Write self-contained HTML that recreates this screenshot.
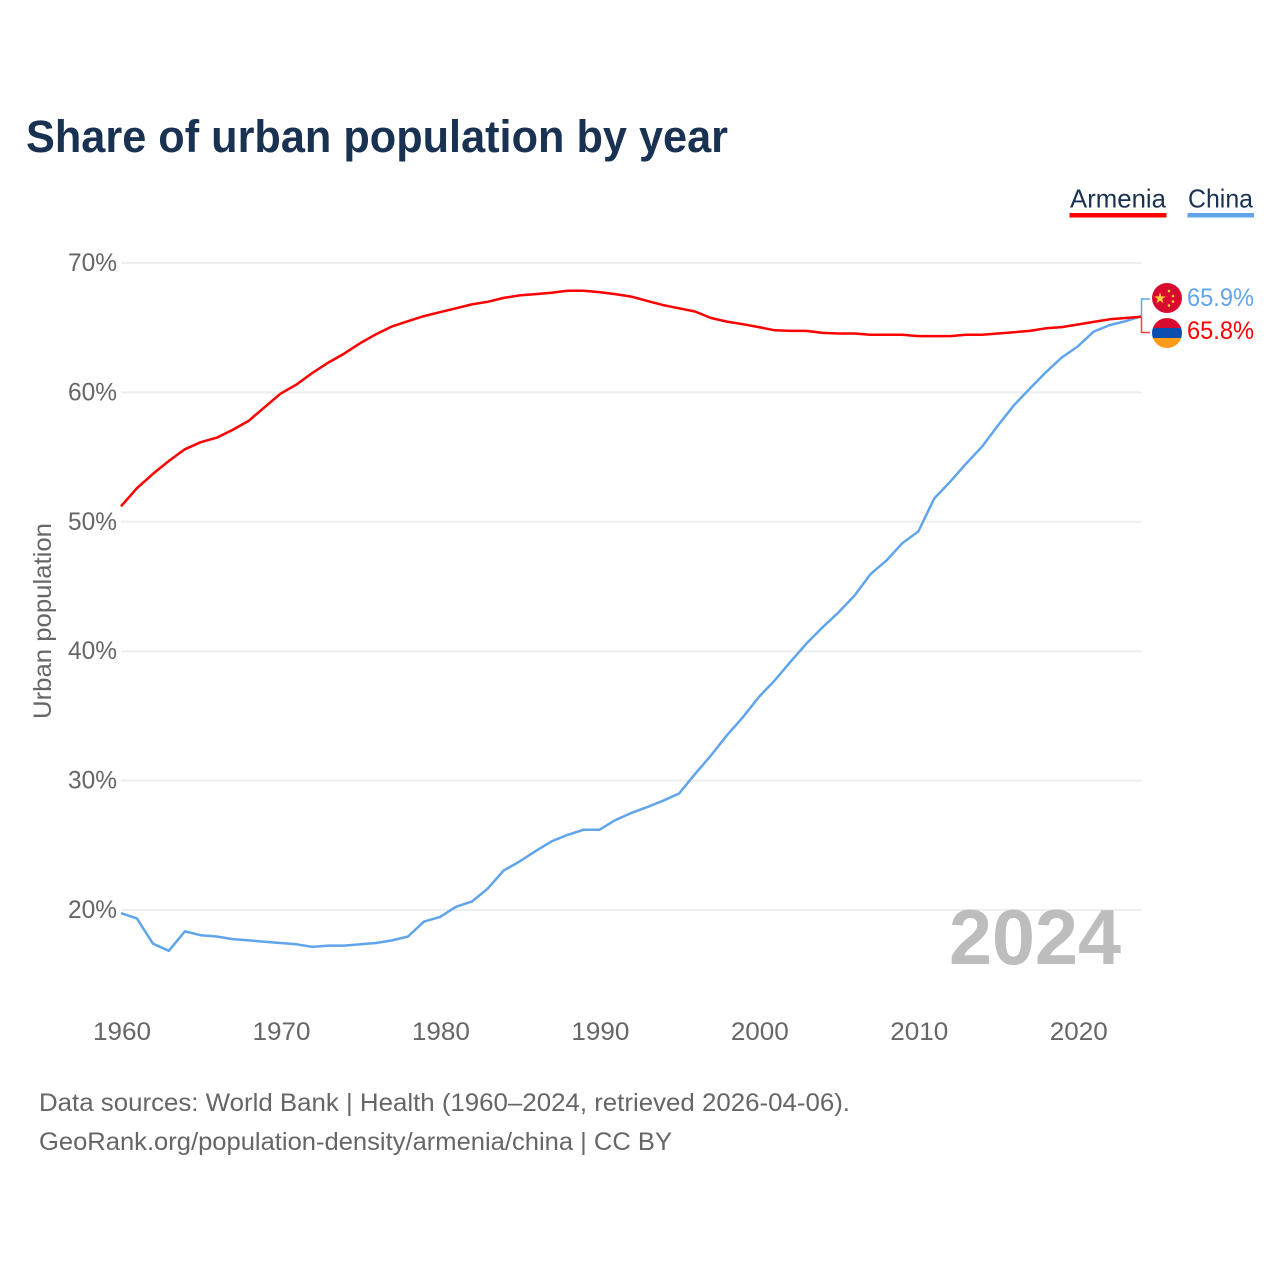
<!DOCTYPE html>
<html lang="en">
<head>
<meta charset="utf-8">
<title>Share of urban population by year</title>
<style>
html,body{margin:0;padding:0;background:#fff}
svg{display:block}
text{font-family:"Liberation Sans",sans-serif}
</style>
</head>
<body>
<svg id="chart" xmlns="http://www.w3.org/2000/svg" width="1280" height="1280" viewBox="0 0 1280 1280">
  <rect width="1280" height="1280" fill="#fff"/>
  <text x="26" y="152" font-size="45" font-weight="700" fill="#1a3252" textLength="702" lengthAdjust="spacingAndGlyphs">Share of urban population by year</text>

  <g>
    <g>
      <text x="1070" y="207.500" font-size="26" fill="#1a3252" textLength="96" lengthAdjust="spacingAndGlyphs">Armenia</text>
      <rect x="1069.500" y="213" width="97" height="4.500" fill="#ff0000"/>
    </g>
    <g>
      <text x="1188" y="207.500" font-size="26" fill="#1a3252" textLength="65" lengthAdjust="spacingAndGlyphs">China</text>
      <rect x="1187.500" y="213" width="66.500" height="4.500" fill="#60a5ec"/>
    </g>
  </g>

  <g id="grid"></g>
  <g id="yticks"></g>
  <g id="xticks"></g>

  <text transform="translate(51,719) rotate(-90)" font-size="25" fill="#666" textLength="196" lengthAdjust="spacingAndGlyphs">Urban population</text>

  <text x="949" y="964" font-size="78" font-weight="700" fill="#bdbdbd" textLength="172" lengthAdjust="spacingAndGlyphs">2024</text>

  <g id="series"></g>

  <defs>
    <clipPath id="clip-am"><circle cx="1167" cy="333" r="15"/></clipPath>
  </defs>

  <g>
    <circle cx="1167" cy="298" r="15" fill="#d80a30"/>
    <polygon points="1160,292.300 1161.350,296.440 1165.700,296.400 1162.200,299 1163.500,303.200 1160,300.600 1156.500,303.200 1157.800,299 1154.300,296.400 1158.650,296.440" fill="#ffd23f"/>
    <circle cx="1169" cy="291" r="1.300" fill="#ffd23f"/>
    <circle cx="1173" cy="296" r="1.300" fill="#ffd23f"/>
    <circle cx="1173" cy="301.500" r="1.300" fill="#ffd23f"/>
    <circle cx="1169" cy="305.500" r="1.300" fill="#ffd23f"/>
  </g>
  <g clip-path="url(#clip-am)">
    <rect x="1152" y="318" width="30" height="10" fill="#d80a30"/>
    <rect x="1152" y="328" width="30" height="10.500" fill="#0a4fb0"/>
    <rect x="1152" y="338" width="30" height="10" fill="#ff9a1a"/>
  </g>

  <text x="1187" y="306" font-size="25" fill="#60a5ec" textLength="67" lengthAdjust="spacingAndGlyphs">65.9%</text>
  <text x="1187" y="339" font-size="25" fill="#ff0000" textLength="67" lengthAdjust="spacingAndGlyphs">65.8%</text>

  <text x="39" y="1111" font-size="25" fill="#666" textLength="811" lengthAdjust="spacingAndGlyphs">Data sources: World Bank | Health (1960–2024, retrieved 2026-04-06).</text>
  <text x="39" y="1150" font-size="25" fill="#666" textLength="633" lengthAdjust="spacingAndGlyphs">GeoRank.org/population-density/armenia/china | CC BY</text>
</svg>

<script>
const years = [1960,1961,1962,1963,1964,1965,1966,1967,1968,1969,1970,1971,1972,1973,1974,1975,1976,1977,1978,1979,1980,1981,1982,1983,1984,1985,1986,1987,1988,1989,1990,1991,1992,1993,1994,1995,1996,1997,1998,1999,2000,2001,2002,2003,2004,2005,2006,2007,2008,2009,2010,2011,2012,2013,2014,2015,2016,2017,2018,2019,2020,2021,2022,2023,2024];
const armeniaValues = [51.2,52.6,53.7,54.7,55.6,56.15,56.5,57.1,57.8,58.85,59.9,60.6,61.5,62.3,63.0,63.8,64.5,65.1,65.5,65.9,66.2,66.5,66.8,67.0,67.3,67.5,67.6,67.7,67.85,67.85,67.75,67.6,67.4,67.07,66.75,66.5,66.25,65.75,65.47,65.27,65.05,64.8,64.75,64.75,64.6,64.55,64.55,64.45,64.45,64.45,64.35,64.35,64.35,64.45,64.45,64.55,64.65,64.75,64.95,65.05,65.25,65.45,65.65,65.75,65.85];
const chinaValues = [19.75,19.35,17.4,16.85,18.35,18.05,17.95,17.75,17.65,17.55,17.45,17.35,17.15,17.25,17.25,17.35,17.45,17.65,17.95,19.1,19.45,20.25,20.65,21.65,23.05,23.75,24.55,25.3,25.8,26.2,26.2,26.95,27.5,27.95,28.45,29.0,30.5,31.95,33.5,34.9,36.45,37.75,39.2,40.6,41.85,43.0,44.3,45.95,47.0,48.35,49.25,51.8,53.1,54.5,55.8,57.45,59.0,60.3,61.55,62.7,63.55,64.7,65.2,65.5,65.9];
const yTickValues = [20,30,40,50,60,70];
const yTickLabels = ['20%','30%','40%','50%','60%','70%'];
const xTickValues = [1960,1970,1980,1990,2000,2010,2020];
const xTickLabels = ['1960','1970','1980','1990','2000','2010','2020'];

const NS = 'http://www.w3.org/2000/svg';
const plotLeft = 121, plotRight = 1141.5;
const xScale = y => plotLeft + (y - 1960) * (plotRight - plotLeft) / (2024 - 1960);
const yScale = v => 910 - (v - 20) * 12.94;

const gridGroup = document.getElementById('grid');
const yTickGroup = document.getElementById('yticks');
const xTickGroup = document.getElementById('xticks');
const seriesGroup = document.getElementById('series');

yTickValues.forEach((v, i) => {
  const line = document.createElementNS(NS, 'line');
  line.setAttribute('x1', plotLeft);
  line.setAttribute('x2', plotRight);
  line.setAttribute('y1', yScale(v));
  line.setAttribute('y2', yScale(v));
  line.setAttribute('stroke', '#eeeeee');
  line.setAttribute('stroke-width', '2');
  
  
  gridGroup.appendChild(line);

  const label = document.createElementNS(NS, 'text');
  label.setAttribute('x', 68);
  label.setAttribute('y', yScale(v) + 8);
  label.setAttribute('font-size', '25');
  label.setAttribute('fill', '#666');
  label.setAttribute('textLength', '49');
  label.setAttribute('lengthAdjust', 'spacingAndGlyphs');
  label.textContent = yTickLabels[i];
  
  
  yTickGroup.appendChild(label);
});

xTickValues.forEach((y, i) => {
  const label = document.createElementNS(NS, 'text');
  label.setAttribute('x', xScale(y) - 28);
  label.setAttribute('y', 1040);
  label.setAttribute('font-size', '25');
  label.setAttribute('fill', '#666');
  label.setAttribute('textLength', '58');
  label.setAttribute('lengthAdjust', 'spacingAndGlyphs');
  label.textContent = xTickLabels[i];
  
  
  xTickGroup.appendChild(label);
});

const pointsFor = values => values.map((v, i) => xScale(years[i]).toFixed(1) + ',' + yScale(v).toFixed(1)).join(' ');

const chinaLine = document.createElementNS(NS, 'polyline');
chinaLine.setAttribute('points', pointsFor(chinaValues));
chinaLine.setAttribute('fill', 'none');
chinaLine.setAttribute('stroke', '#60a5ec');
chinaLine.setAttribute('stroke-width', '2.5');
chinaLine.setAttribute('stroke-linejoin', 'round');


seriesGroup.appendChild(chinaLine);

const armeniaLine = document.createElementNS(NS, 'polyline');
armeniaLine.setAttribute('points', pointsFor(armeniaValues));
armeniaLine.setAttribute('fill', 'none');
armeniaLine.setAttribute('stroke', '#ff0000');
armeniaLine.setAttribute('stroke-width', '2.5');
armeniaLine.setAttribute('stroke-linejoin', 'round');


seriesGroup.appendChild(armeniaLine);

const lastIndex = years.length - 1;
const chinaConnector = document.createElementNS(NS, 'polyline');
chinaConnector.setAttribute('points', plotRight + ',' + yScale(chinaValues[lastIndex]).toFixed(1) + ' ' + plotRight + ',299 1150,299');
chinaConnector.setAttribute('fill', 'none');
chinaConnector.setAttribute('stroke', '#60a5ec');
chinaConnector.setAttribute('stroke-width', '1.500');


seriesGroup.appendChild(chinaConnector);

const armeniaConnector = document.createElementNS(NS, 'polyline');
armeniaConnector.setAttribute('points', plotRight + ',' + yScale(armeniaValues[lastIndex]).toFixed(1) + ' ' + plotRight + ',332.5 1150,332.5');
armeniaConnector.setAttribute('fill', 'none');
armeniaConnector.setAttribute('stroke', '#ff3b3b');
armeniaConnector.setAttribute('stroke-width', '1.500');


seriesGroup.appendChild(armeniaConnector);
</script>
</body>
</html>
